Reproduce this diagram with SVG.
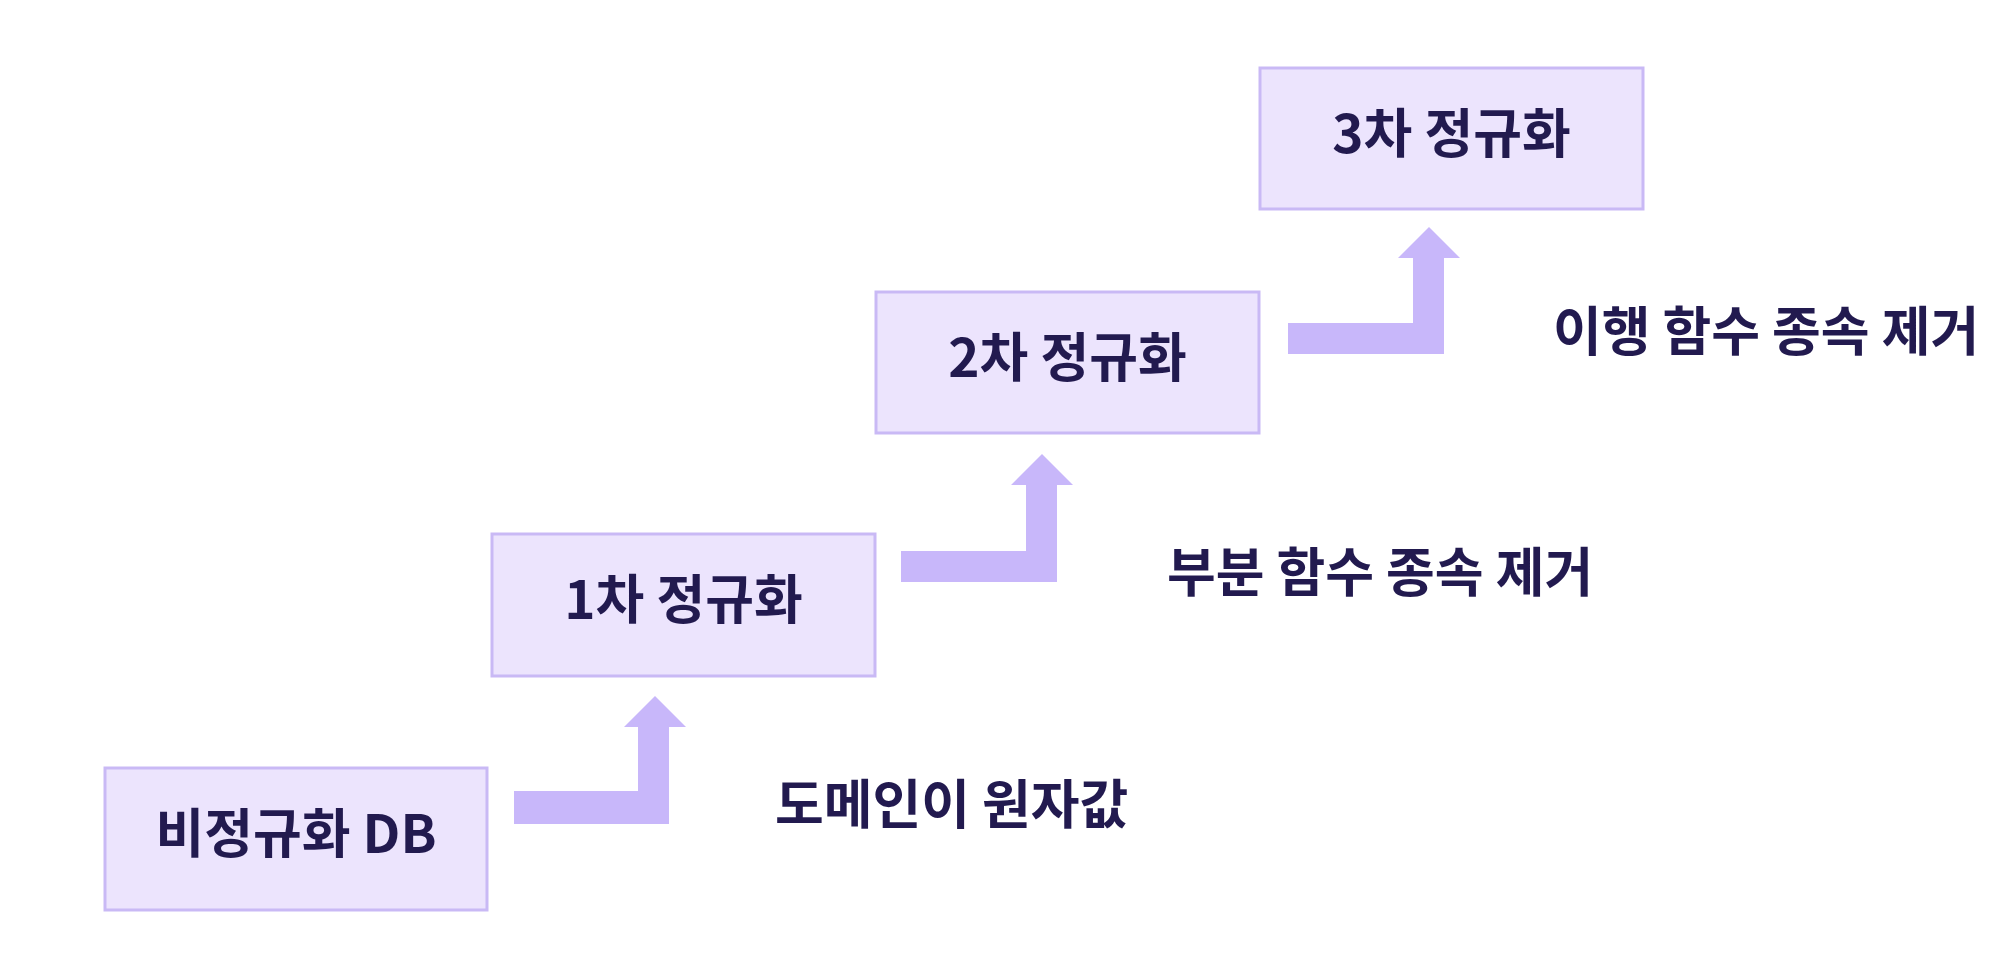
<svg xmlns="http://www.w3.org/2000/svg" width="2000" height="974" viewBox="0 0 2000 974">
<style>
.box{fill:#ECE4FD;stroke:#C9B9F5;stroke-width:3}
.t{font-family:"Noto Sans CJK KR","Noto Sans",sans-serif;font-size:53px;font-weight:600;fill:#221A4F}
.c{text-anchor:middle}
.arr{fill:#C8B7FA}
</style>
<rect width="2000" height="974" fill="#FFFFFF"/>
<g id="connectors">
<path class="arr" d="M514,791 H638 V727 H624 L655,696 L686,727 H669 V824 H514 Z"/>
<path class="arr" d="M901,551 H1026 V485 H1011 L1042,454 L1073,485 H1057 V582 H901 Z"/>
<path class="arr" d="M1288,323 H1413 V258 H1398 L1429,227 L1460,258 H1444 V354 H1288 Z"/>
</g>
<g id="node-unnormalized">
<rect class="box" x="105" y="768" width="382" height="142"/>
<text class="t c" x="296" y="853">비정규화 DB</text>
</g>
<g id="node-1nf">
<rect class="box" x="492" y="534" width="383" height="142"/>
<text class="t c" x="683.5" y="619">1차 정규화</text>
</g>
<g id="node-2nf">
<rect class="box" x="876" y="292" width="383" height="141"/>
<text class="t c" x="1067.5" y="377">2차 정규화</text>
</g>
<g id="node-3nf">
<rect class="box" x="1260" y="68" width="383" height="141"/>
<text class="t c" x="1451.5" y="153">3차 정규화</text>
</g>
<g id="labels">
<text class="t" x="775" y="824">도메인이 원자값</text>
<text class="t" x="1167" y="592">부분 함수 종속 제거</text>
<text class="t" x="1553" y="351">이행 함수 종속 제거</text>
</g>
</svg>
